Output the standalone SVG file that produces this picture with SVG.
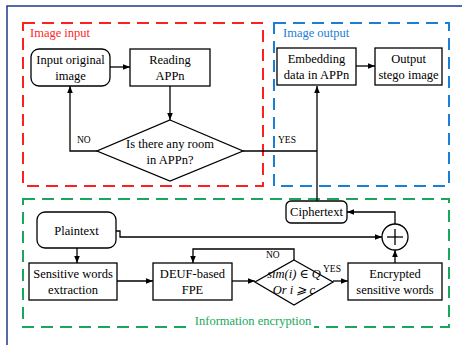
<svg xmlns="http://www.w3.org/2000/svg" width="462" height="345" viewBox="0 0 462 345">
<defs>
<marker id="ah" viewBox="0 0 10 10" refX="10" refY="5" markerWidth="7" markerHeight="7" markerUnits="userSpaceOnUse" orient="auto"><path d="M0,1 L10,5 L0,9 z" fill="#000"/></marker>
<style>
text{font-family:'Liberation Serif','Times New Roman',Times,'DejaVu Serif',serif}
.box{fill:#fff;stroke:#000;stroke-width:1.3}
.t{font-size:12.5px;fill:#000;text-anchor:middle}
.s{font-size:9.5px;fill:#000}
.c{fill:none;stroke:#000;stroke-width:1.3}
.a{marker-end:url(#ah)}
.grp{fill:none;stroke-width:2;stroke-dasharray:12 7}
</style>
</defs>
<rect width="462" height="345" fill="#fff"/>
<rect x="7" y="6" width="470" height="350" fill="none" stroke="#1b3a8c" stroke-width="1.5"/>
<g id="group-input">
<rect class="grp" x="23" y="23" width="240" height="163" stroke="#ff1f1f"/>
<text x="30" y="37" font-size="12.5" fill="#ff1f1f">Image input</text>
</g>
<g id="group-output">
<rect class="grp" x="274" y="23" width="175" height="163" stroke="#1a7ed6"/>
<text x="283" y="37" font-size="12.5" fill="#1a7ed6">Image output</text>
</g>
<g id="group-encryption">
<rect class="grp" x="23" y="199" width="426" height="128" stroke="#17a85a"/>
<rect x="192" y="314" width="122" height="15" fill="#fff"/>
<text x="253" y="325" font-size="12.5" fill="#17a85a" text-anchor="middle">Information encryption</text>
</g>
<g id="connectors">
<line class="c a" x1="110" y1="67" x2="130" y2="67"/>
<line class="c a" x1="170" y1="86" x2="170" y2="120"/>
<polyline class="c a" points="97,151 70,151 70,86"/>
<text class="s" x="77" y="143">NO</text>
<line class="c" x1="243" y1="151" x2="317" y2="151"/>
<text class="s" x="278" y="143">YES</text>
<line class="c a" x1="317" y1="201" x2="317" y2="86"/>
<line class="c a" x1="356" y1="66" x2="375" y2="66"/>
<polyline class="c a" points="395,224 395,212 347,212"/>
<line class="c a" x1="395" y1="263" x2="395" y2="250"/>
<polyline class="c a" points="116,231 120,231 120,237 382,237"/>
<line class="c a" x1="77" y1="248" x2="77" y2="263"/>
<line class="c a" x1="117" y1="281" x2="153" y2="281"/>
<line class="c a" x1="232" y1="281" x2="255" y2="281"/>
<polyline class="c a" points="294,260 294,249 193,249 193,263"/>
<text class="s" x="266" y="258">NO</text>
<line class="c a" x1="333" y1="281" x2="348" y2="281"/>
<text class="s" x="323" y="272">YES</text>
</g>
<g id="input-original-image">
<rect class="box" x="31" y="49" width="79" height="37" rx="8"/>
<text class="t" x="70.5" y="64">Input original</text>
<text class="t" x="70.5" y="80">image</text>
</g>
<g id="reading-appn">
<rect class="box" x="130" y="49" width="80" height="37"/>
<text class="t" x="170" y="64">Reading</text>
<text class="t" x="170" y="80">APPn</text>
</g>
<g id="room-decision">
<polygon class="box" points="170,120 243,151 170,181 97,151"/>
<text class="t" x="170" y="148">Is there any room</text>
<text class="t" x="170" y="164">in APPn?</text>
</g>
<g id="embedding">
<rect class="box" x="277" y="48" width="79" height="37"/>
<text class="t" x="316.5" y="63">Embedding</text>
<text class="t" x="316.5" y="79">data in APPn</text>
</g>
<g id="output-stego">
<rect class="box" x="375" y="48" width="67" height="37"/>
<text class="t" x="408.5" y="63">Output</text>
<text class="t" x="408.5" y="79">stego image</text>
</g>
<g id="ciphertext">
<rect class="box" x="286" y="201" width="61" height="22" rx="5"/>
<text class="t" x="316.5" y="216">Ciphertext</text>
</g>
<g id="xor">
<circle class="box" cx="395" cy="237" r="13"/>
<line class="c" x1="387" y1="237" x2="403" y2="237"/>
<line class="c" x1="395" y1="229" x2="395" y2="245"/>
</g>
<g id="plaintext">
<rect class="box" x="37" y="212" width="79" height="36" rx="8"/>
<text class="t" x="76.5" y="235">Plaintext</text>
</g>
<g id="sensitive-words-extraction">
<rect class="box" x="29" y="263" width="88" height="37"/>
<text class="t" x="73" y="278">Sensitive words</text>
<text class="t" x="73" y="294">extraction</text>
</g>
<g id="deuf-fpe">
<rect class="box" x="153" y="263" width="79" height="37"/>
<text class="t" x="192.5" y="278">DEUF-based</text>
<text class="t" x="192.5" y="294">FPE</text>
</g>
<g id="sim-decision">
<polygon class="box" points="294,260 333,282 294,305 255,282"/>
<text class="t" x="294" y="278" font-style="italic" font-size="11">sim(i) ∈ Q</text>
<text class="t" x="294" y="294" font-style="italic" font-size="11">Or  i ⩾ c</text>
</g>
<g id="encrypted-words">
<rect class="box" x="348" y="263" width="94" height="37"/>
<text class="t" x="395" y="278">Encrypted</text>
<text class="t" x="395" y="294">sensitive words</text>
</g>
</svg>
